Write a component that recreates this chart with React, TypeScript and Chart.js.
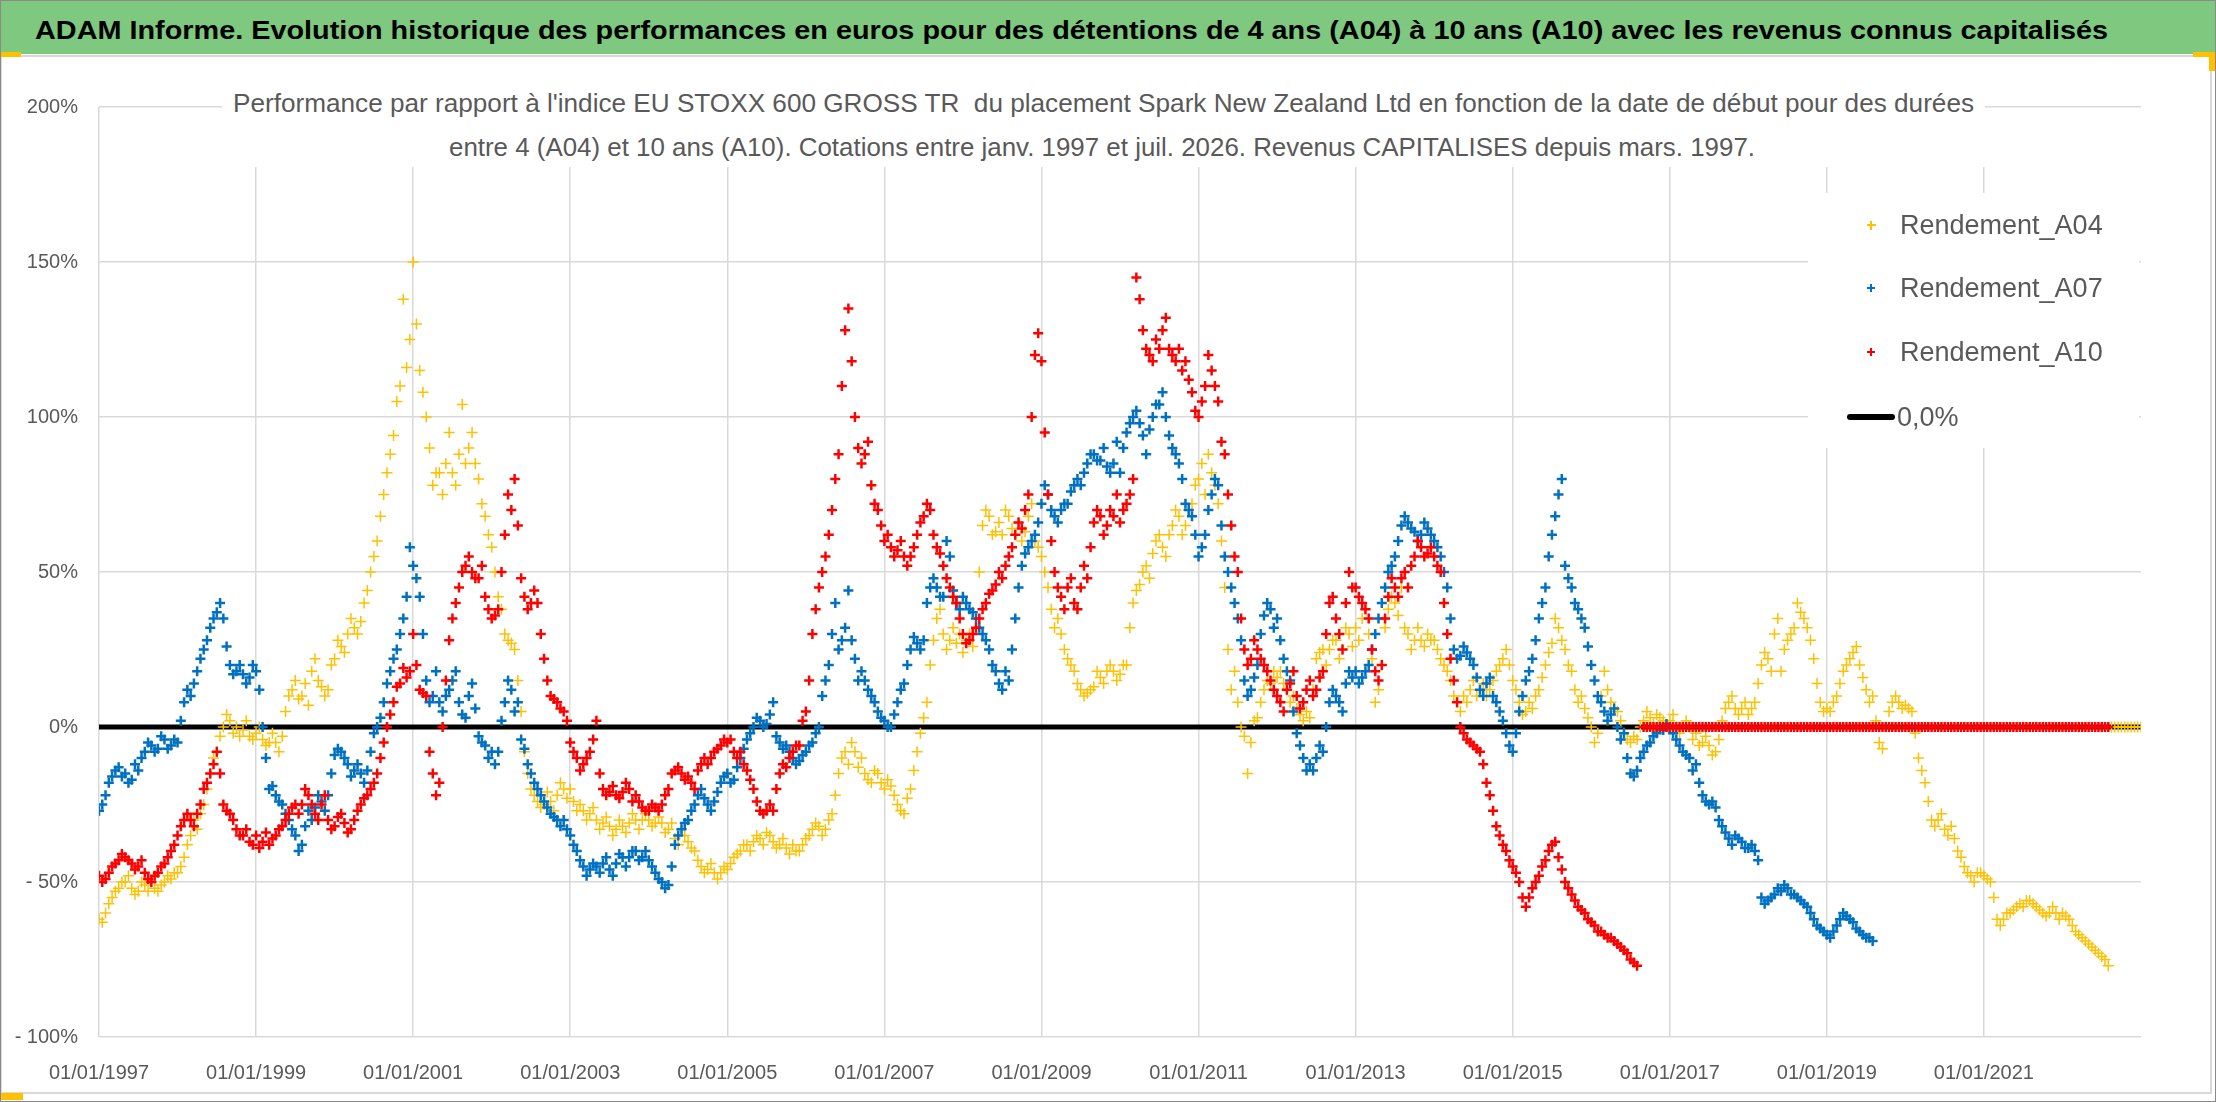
import { useEffect, useLayoutEffect, useRef } from 'react';
import { Chart, registerables } from 'chart.js';

Chart.register(...registerables);

// Rendements (%), un point en début de mois depuis janvier 1997
const a04Start = 1997;
const a04Monthly = [
  -62, -60, -55, -52, -50, -52, -53, -51, -50, -53, -50, -49,
  -47, -42, -35, -33, -25, -15, -8, 0, 2, 0, -1, -3,
  -2, -4, -5, -5, -3, 10, 15, 10, 7, 22, 13, 12,
  22, 26, 30, 32, 34, 44, 55, 68, 82, 94, 110, 116,
  150, 115, 100, 78, 82, 85, 82, 88, 85, 95, 80, 68,
  58, 42, 30, 27, 15, -8, -20, -24, -25, -24, -22, -20,
  -20, -27, -27, -28, -30, -31, -32, -33, -32, -31, -30, -30,
  -30, -31, -31, -33, -36, -33, -37, -40, -45, -46, -47, -47,
  -46, -42, -40, -38, -37, -36, -34, -37, -38, -39, -38, -40,
  -36, -33, -32, -33, -28, -15, -8, -5, -13, -15, -18, -15,
  -20, -19, -25, -28, -20, -8, 3, 20, 35, 30, 28, 27,
  24, 30, 35, 65, 68, 63, 62, 68, 62, 60, 68, 60,
  55, 45, 32, 30, 22, 18, 12, 11, 13, 16, 18, 18,
  17, 20, 40, 46, 52, 56, 62, 55, 65, 68, 65, 72,
  80, 75, 82, 72, 45, 12, 8, -3, -5, 3, 12, 14,
  16, 14, 8, 6, 2, 3, 22, 25, 25, 28, 25, 30,
  32, 35, 30, 8, 20, 38, 40, 45, 30, 28, 28, 30,
  28, 22, 18, 10, 5, 8, 15, 12, 10, 15, 20, 25,
  15, 8, 5, 6, 12, 20, 27, 32, 25, 18, 8, 6,
  0, -2, 18, 8, 5, -2, -5, -4, 2, 3, 4, 2,
  2, 0, 0, 0, -2, -5, -6, -8, 2, 8, 6, 6,
  4, 8, 20, 22, 30, 18, 28, 32, 37, 32, 22, 8,
  6, 8, 14, 20, 24, 20, 12, 10, -5, 0, 8, 8,
  7, 5, -10, -18, -30, -30, -33, -32, -40, -45, -48, -47,
  -48, -50, -62, -62, -60, -58, -58, -56, -58, -60, -60, -60,
  -60, -62, -66, -68, -70, -72, -74, -77,
];
// Relevés en milieu de mois (épaisseur du nuage)
const a04MidMonth = [
  -63, -57, -53, -50, -48, -54, -50, -53, -52, -51, -48, -47,
  -45, -38, -30, -28, -20, -10, -3, 4, -2, -3, 2, -4,
  0, -6, -2, -8, 5, 12, 9, 14, 18, 15, 10, 20,
  28, 24, 35, 30, 40, 50, 60, 75, 88, 105, 138, 125,
  130, 108, 90, 82, 75, 95, 78, 104, 90, 85, 72, 62,
  50, 38, 28, 25, 5, -15, -22, -26, -21, -27, -18, -23,
  -24, -25, -30, -26, -33, -29, -35, -30, -34, -28, -33, -28,
  -32, -29, -34, -31, -38, -35, -39, -43, -47, -44, -49, -45,
  -44, -41, -38, -40, -35, -38, -35, -39, -36, -41, -40, -38,
  -35, -31, -35, -30, -22, -10, -12, -8, -10, -17, -14, -18,
  -17, -22, -27, -23, -14, -2, 8, 28, 38, 25, 32, 30,
  28, 26, 50, 70, 62, 66, 70, 64, 66, 63, 72, 58,
  50, 38, 35, 25, 20, 14, 10, 12, 18, 14, 20, 15,
  20, 32, 44, 50, 48, 60, 58, 62, 70, 62, 70, 78,
  85, 88, 78, 60, 25, 18, 0, -15, 2, 8, 15, 18,
  18, 12, 10, 4, 5, 12, 24, 20, 28, 22, 32, 26,
  28, 38, 22, 12, 32, 42, 36, 32, 25, 32, 26, 28,
  25, 20, 15, 8, 10, 12, 10, 14, 12, 18, 22, 20,
  12, 4, 8, 10, 16, 24, 35, 28, 20, 12, 10, 3,
  -5, 10, 12, 6, 2, -4, -3, 0, 5, 1, 3, 0,
  4, -2, 2, -4, -6, -3, -9, -4, 6, 10, 4, 8,
  6, 14, 24, 18, 35, 25, 30, 40, 35, 28, 14, 5,
  5, 10, 18, 22, 26, 16, 8, 2, -7, 5, 10, 6,
  6, -2, -14, -24, -32, -28, -35, -36, -42, -47, -50, -47,
  -49, -55, -64, -60, -59, -57, -56, -57, -59, -61, -58, -62,
  -61, -64, -67, -69, -71, -73, -75,
];

const a07Start = 1997;
const a07Monthly = [
  -27, -22, -16, -13, -15, -17, -14, -8, -6, -7, -4, -6,
  -5, 8, 10, 18, 25, 32, 37, 35, 20, 18, 17, 16,
  18, 0, -20, -22, -25, -30, -35, -38, -27, -26, -24, -22,
  -9, -8, -12, -14, -15, -14, -2, 3, 14, 22, 30, 42,
  52, 42, 15, 10, 8, 10, 15, 8, 3, 14, -3, -6,
  -8, -8, 8, 12, 8, -7, -15, -20, -24, -28, -30, -30,
  -35, -40, -45, -46, -45, -44, -46, -44, -42, -42, -40, -42,
  -43, -47, -50, -51, -38, -33, -30, -25, -20, -25, -24, -18,
  -15, -17, -10, -4, 0, 2, 1, 8, -5, -6, -10, -11,
  -8, -5, 0, 15, 30, 25, 32, 28, 15, 15, 10, 5,
  2, 0, 8, 14, 25, 27, 28, 45, 45, 42, 55, 40,
  42, 38, 35, 30, 25, 18, 12, 15, 35, 52, 58, 62,
  72, 75, 68, 70, 72, 78, 78, 85, 88, 86, 84, 85,
  82, 95, 100, 98, 88, 100, 104, 100, 90, 85, 72, 68,
  55, 62, 75, 78, 55, 45, 35, 15, 12, 20, 36, 38,
  35, 22, 15, -2, -10, -12, -10, -8, 8, 10, 5, 18,
  18, 16, 20, 30, 40, 50, 55, 65, 66, 63, 62, 64,
  60, 55, 45, 25, 23, 24, 20, 12, 14, 10, 5, -2,
  -8, 5, 15, 22, 35, 45, 62, 75, 52, 45, 38, 32,
  20, 10, 5, 4, 0, -2, -15, -14, -8, -5, -2, -1,
  0, -4, -8, -10, -12, -22, -25, -26, -32, -36, -35, -37,
  -39, -40, -55, -56, -54, -53, -52, -54, -56, -58, -62, -65,
  -67, -66, -62, -61, -63, -66, -68, -69,
];
const a07MidMonth = [
  -25, -18, -14, -16, -18, -12, -10, -5, -8, -3, -7, -4,
  2, 12, 14, 22, 28, 35, 40, 26, 17, 20, 14, 20,
  12, -10, -19, -24, -28, -33, -40, -32, -30, -22, -27, -15,
  -7, -10, -16, -12, -18, -8, 0, 8, 18, 25, 35, 58,
  48, 30, 8, 18, 5, 12, 18, 4, 10, 6, -5, -10,
  -12, 2, 15, 5, -4, -12, -18, -22, -26, -29, -32, -33,
  -38, -43, -48, -44, -47, -42, -48, -41, -45, -40, -43, -40,
  -45, -49, -52, -45, -35, -31, -27, -22, -23, -27, -21, -16,
  -18, -13, -7, -2, 3, 0, 4, -3, -7, -8, -12, -9,
  -6, -2, 10, 20, 40, 28, 44, 22, 18, 12, 8, 3,
  0, 4, 12, 20, 29, 25, 40, 48, 42, 60, 44, 38,
  40, 37, 32, 28, 20, 14, 18, 25, 45, 56, 60, 66,
  78, 70, 66, 72, 76, 80, 82, 88, 86, 90, 82, 92,
  90, 98, 102, 94, 96, 104, 108, 94, 88, 80, 70, 62,
  58, 70, 80, 65, 50, 40, 28, 10, 16, 30, 40, 32,
  28, 18, 5, -6, -14, -14, -6, 0, 12, 8, 14, 16,
  14, 18, 25, 35, 45, 52, 60, 68, 64, 60, 66, 62,
  58, 50, 35, 22, 26, 22, 16, 10, 16, 8, 2, -6,
  -2, 10, 18, 28, 40, 55, 68, 80, 48, 40, 35, 26,
  15, 8, 2, 6, -4, -10, -16, -10, -6, -3, 0, 1,
  -2, -6, -9, -14, -18, -24, -24, -30, -34, -38, -36, -39,
  -38, -43, -57, -55, -52, -51, -54, -55, -57, -60, -64, -66,
  -68, -64, -60, -62, -65, -67, -68,
];

const a10Start = 1997;
const a10Monthly = [
  -48, -49, -45, -43, -42, -44, -45, -47, -50, -47, -44, -40,
  -35, -30, -30, -28, -20, -15, -8, -25, -28, -33, -35, -37,
  -35, -37, -38, -35, -32, -28, -25, -25, -22, -28, -25, -30,
  -32, -28, -34, -30, -25, -22, -18, -10, 0, 8, 14, 16,
  30, 12, 10, -15, -18, 15, 35, 45, 52, 50, 48, 42,
  35, 38, 62, 70, 65, 42, 40, 40, 22, 10, 8, 5,
  -5, -10, -12, -8, 2, -20, -21, -22, -21, -20, -22, -26,
  -27, -26, -25, -20, -14, -15, -16, -20, -12, -12, -8, -6,
  -5, -8, -8, -14, -20, -27, -27, -27, -15, -13, -8, -6,
  5, 30, 45, 55, 70, 88, 128, 118, 90, 88, 78, 70,
  60, 58, 57, 55, 55, 62, 68, 70, 58, 52, 45, 40,
  30, 28, 32, 38, 43, 46, 48, 55, 62, 64, 75, 120,
  118, 75, 50, 42, 45, 40, 45, 48, 66, 68, 65, 68,
  66, 72, 80, 138, 122, 118, 122, 132, 120, 122, 118, 108,
  100, 110, 115, 105, 88, 65, 50, 25, 22, 25, 20, 15,
  10, 5, 14, 10, 8, 15, 12, 18, 40, 35, 25, 50,
  45, 40, 35, 18, 20, 42, 45, 48, 45, 55, 58, 56,
  55, 50, 30, 15, 0, -4, -6, -8, -18, -27, -35, -40,
  -45, -50, -58, -52, -48, -43, -38, -42, -50, -54, -58, -60,
  -63, -66, -67, -68, -70, -72, -75, -77,
];
const a10MidMonth = [
  -50, -47, -44, -41, -43, -46, -43, -49, -48, -45, -42, -38,
  -32, -28, -32, -25, -18, -12, -15, -27, -30, -35, -33, -38,
  -39, -34, -36, -33, -30, -26, -28, -20, -25, -30, -22, -33,
  -29, -31, -33, -27, -23, -20, -15, -5, 4, 13, 19, 18,
  20, 11, -8, -22, 0, 28, 40, 50, 55, 48, 52, 38,
  36, 50, 75, 80, 48, 38, 44, 30, 15, 9, 6, 2,
  -8, -14, -10, -4, -15, -22, -19, -23, -18, -24, -24, -27,
  -25, -27, -22, -15, -13, -17, -18, -14, -10, -10, -7, -4,
  -4, -10, -12, -17, -24, -28, -25, -20, -12, -10, -6, 2,
  15, 38, 50, 62, 80, 110, 135, 100, 85, 92, 72, 65,
  62, 55, 60, 52, 58, 66, 72, 62, 56, 48, 42, 35,
  27, 30, 35, 40, 44, 50, 52, 58, 66, 70, 100, 127,
  95, 60, 45, 38, 48, 38, 52, 58, 70, 62, 70, 75,
  70, 75, 145, 128, 120, 125, 128, 122, 118, 115, 112, 102,
  105, 120, 110, 92, 75, 55, 35, 20, 28, 22, 18, 12,
  8, 12, 18, 6, 12, 10, 16, 30, 42, 30, 40, 45,
  42, 38, 25, 15, 35, 48, 42, 50, 52, 60, 55, 58,
  52, 40, 22, 8, -2, -5, -7, -12, -22, -32, -38, -43,
  -47, -55, -55, -50, -45, -40, -37, -46, -52, -56, -59, -62,
  -64, -66, -68, -69, -71, -73, -76,
];

// Valeurs nulles après la fin des séries, un point tous les demi-mois
const a10TailStart = 2016 + 8 / 12;
const a10ZeroTail = [
  0, 0, 0, 0, 0, 0, 0, 0, 0, 0, 0, 0, 0, 0, 0, 0, 0, 0, 0, 0, 0, 0, 0, 0,
  0, 0, 0, 0, 0, 0, 0, 0, 0, 0, 0, 0, 0, 0, 0, 0, 0, 0, 0, 0, 0, 0, 0, 0,
  0, 0, 0, 0, 0, 0, 0, 0, 0, 0, 0, 0, 0, 0, 0, 0, 0, 0, 0, 0, 0, 0, 0, 0,
  0, 0, 0, 0, 0, 0, 0, 0, 0, 0, 0, 0, 0, 0, 0, 0, 0, 0, 0, 0, 0, 0, 0, 0,
  0, 0, 0, 0, 0, 0, 0, 0, 0, 0, 0, 0, 0, 0, 0, 0, 0, 0, 0, 0, 0, 0, 0, 0,
  0, 0, 0, 0, 0, 0, 0, 0, 0, 0, 0, 0, 0, 0, 0, 0, 0, 0, 0, 0, 0, 0, 0,
];
const a04TailStart = 2022 + 7.5 / 12;
const a04ZeroTail = [0, 0, 0, 0, 0, 0, 0, 0, 0, 0];

const zeroLineX = [1997, 2023];
const xTickYears = [1997, 1999, 2001, 2003, 2005, 2007, 2009, 2011, 2013, 2015, 2017, 2019, 2021];
const yTickValues = [-100, -50, 0, 50, 100, 150, 200];

const FONT = "'Liberation Sans', Arial, sans-serif";
const GREY_TEXT = '#595959';
const YELLOW = '#FFC000';
const BLUE = '#0070C0';
const RED = '#FF0000';

const MONTH = 1 / 12;

const toPoints = (start: number, values: number[], step: number) =>
  values.map((y, i) => ({ x: start + i * step, y }));

// Texte étiré pour occuper la même largeur que sur l'original
function FitText({ text, left, top, width, size, color, weight }: {
  text: string; left: number; top: number; width: number; size: number; color: string; weight: number;
}) {
  const ref = useRef<HTMLSpanElement>(null);
  useLayoutEffect(() => {
    const el = ref.current;
    if (!el) return;
    el.style.transform = 'none';
    const w = el.getBoundingClientRect().width;
    if (w > 0) el.style.transform = `scaleX(${width / w})`;
  }, [text, width]);
  return (
    <span
      ref={ref}
      style={{
        position: 'absolute', left, top, fontSize: size, lineHeight: `${size}px`, height: size,
        color, fontWeight: weight, whiteSpace: 'pre', transformOrigin: 'left center', fontFamily: FONT,
      }}
    >
      {text}
    </span>
  );
}

function Plus({ cx, cy, size, thick, color }: { cx: number; cy: number; size: number; thick: number; color: string }) {
  return (
    <>
      <div style={{ position: 'absolute', left: cx - size / 2, top: cy - thick / 2, width: size, height: thick, background: color }} />
      <div style={{ position: 'absolute', left: cx - thick / 2, top: cy - size / 2, width: thick, height: size, background: color }} />
    </>
  );
}

export default function App() {
  const canvasRef = useRef<HTMLCanvasElement>(null);
  const chartRef = useRef<Chart | null>(null);

  useEffect(() => {
    document.body.style.margin = '0';
    const ctx = canvasRef.current?.getContext('2d');
    if (!ctx) return;
    if (chartRef.current) chartRef.current.destroy();

    chartRef.current = new Chart(ctx, {
      type: 'scatter',
      data: {
        datasets: [
          {
            label: '0,0%',
            data: zeroLineX.map((x) => ({ x, y: 0 })),
            showLine: true,
            borderColor: '#000000',
            borderWidth: 5,
            pointRadius: 0,
            order: 4,
          },
          {
            label: 'Rendement_A04',
            data: [
              ...toPoints(a04Start, a04Monthly, MONTH),
              ...toPoints(a04Start + MONTH / 2, a04MidMonth, MONTH),
              ...toPoints(a04TailStart, a04ZeroTail, MONTH / 2),
            ],
            pointStyle: 'cross',
            pointRadius: 5.5,
            pointBorderWidth: 1.5,
            pointBorderColor: YELLOW,
            backgroundColor: YELLOW,
            order: 3,
          },
          {
            label: 'Rendement_A07',
            data: [
              ...toPoints(a07Start, a07Monthly, MONTH),
              ...toPoints(a07Start + MONTH / 2, a07MidMonth, MONTH),
            ],
            pointStyle: 'cross',
            pointRadius: 5,
            pointBorderWidth: 2.5,
            pointBorderColor: BLUE,
            backgroundColor: BLUE,
            order: 2,
          },
          {
            label: 'Rendement_A10',
            data: [
              ...toPoints(a10Start, a10Monthly, MONTH),
              ...toPoints(a10Start + MONTH / 2, a10MidMonth, MONTH),
              ...toPoints(a10TailStart, a10ZeroTail, MONTH / 2),
            ],
            pointStyle: 'cross',
            pointRadius: 5,
            pointBorderWidth: 2.5,
            pointBorderColor: RED,
            backgroundColor: RED,
            order: 1,
          },
        ],
      },
      options: {
        animation: false,
        responsive: false,
        layout: { padding: { top: 107, right: 75, bottom: 0, left: 0 } },
        plugins: {
          legend: { display: false },
          tooltip: { enabled: false },
          title: { display: false },
        },
        scales: {
          x: {
            type: 'linear',
            min: 1997,
            max: 2023,
            afterBuildTicks: (scale: any) => {
              scale.ticks = xTickYears.map((value) => ({ value }));
            },
            afterFit: (scale: any) => {
              scale.height = 65;
            },
            ticks: {
              callback: (v: any) => `01/01/${v}`,
              color: GREY_TEXT,
              font: { family: FONT, size: 20 },
              padding: 24,
              maxRotation: 0,
              autoSkip: false,
            },
            grid: { color: '#D9D9D9', lineWidth: 1.5, drawTicks: false },
            border: { display: false },
          },
          y: {
            type: 'linear',
            min: -100,
            max: 200,
            afterBuildTicks: (scale: any) => {
              scale.ticks = yTickValues.map((value) => ({ value }));
            },
            afterFit: (scale: any) => {
              scale.width = 99;
            },
            ticks: {
              callback: (v: any) => (v < 0 ? `- ${Math.abs(v)}%` : `${v}%`),
              color: GREY_TEXT,
              font: { family: FONT, size: 20 },
              padding: 21,
            },
            grid: { color: '#D9D9D9', lineWidth: 1.5, drawTicks: false },
            border: { display: false },
          },
        },
      },
    });

    return () => {
      if (chartRef.current) {
        chartRef.current.destroy();
        chartRef.current = null;
      }
    };
  }, []);

  const legendRows = [
    { label: 'Rendement_A04', color: YELLOW, size: 9, thick: 1.3, cy: 225 },
    { label: 'Rendement_A07', color: BLUE, size: 7.5, thick: 2, cy: 288 },
    { label: 'Rendement_A10', color: RED, size: 7.5, thick: 2, cy: 352 },
  ];

  return (
    <div style={{ position: 'absolute', left: 0, top: 0, width: 2216, height: 1102, background: '#ffffff', overflow: 'hidden', fontFamily: FONT }}>
      <canvas ref={canvasRef} width={2216} height={1102} style={{ position: 'absolute', left: 0, top: 0, width: 2216, height: 1102 }} />

      {/* cadre du graphique */}
      <div style={{ position: 'absolute', left: 0, top: 55, width: 2212, height: 1039, border: '2px solid #D9D9D9', boxSizing: 'border-box' }} />

      {/* bandeau titre */}
      <div style={{ position: 'absolute', left: 0, top: 0, width: 2216, height: 54, background: '#7EC87F' }} />
      <FitText
        text="ADAM Informe. Evolution historique des performances en euros pour des détentions de 4 ans (A04) à 10 ans (A10) avec les revenus connus capitalisés"
        left={35} top={17} width={2073} size={26} color="#000000" weight={700}
      />

      {/* titre du graphique */}
      <div style={{ position: 'absolute', left: 222, top: 86, width: 1763, height: 81, background: '#ffffff' }} />
      <FitText
        text="Performance par rapport à l'indice EU STOXX 600 GROSS TR  du placement Spark New Zealand Ltd en fonction de la date de début pour des durées"
        left={233} top={91} width={1741} size={25} color={GREY_TEXT} weight={400}
      />
      <FitText
        text="entre 4 (A04) et 10 ans (A10). Cotations entre janv. 1997 et juil. 2026. Revenus CAPITALISES depuis mars. 1997."
        left={449} top={135} width={1306} size={25} color={GREY_TEXT} weight={400}
      />

      {/* légende */}
      <div style={{ position: 'absolute', left: 1808, top: 193, width: 331, height: 255, background: '#ffffff' }} />
      {legendRows.map((r) => (
        <div key={r.label}>
          <Plus cx={1871} cy={r.cy} size={r.size} thick={r.thick} color={r.color} />
          <span style={{ position: 'absolute', left: 1900, top: r.cy - 14, fontSize: 27, lineHeight: '28px', color: GREY_TEXT, whiteSpace: 'nowrap' }}>
            {r.label}
          </span>
        </div>
      ))}
      <div style={{ position: 'absolute', left: 1847, top: 414, width: 48, height: 6, borderRadius: 3, background: '#000000' }} />
      <span style={{ position: 'absolute', left: 1897, top: 403, fontSize: 27, lineHeight: '28px', color: GREY_TEXT, whiteSpace: 'nowrap' }}>
        0,0%
      </span>

      {/* poignées de sélection */}
      <div style={{ position: 'absolute', left: 0, top: 52, width: 21, height: 5, background: '#FFC000' }} />
      <div style={{ position: 'absolute', left: 2193, top: 52, width: 23, height: 5, background: '#FFC000' }} />
      <div style={{ position: 'absolute', left: 2209, top: 52, width: 7, height: 19, background: '#FFC000' }} />
      <div style={{ position: 'absolute', left: 0, top: 1093, width: 23, height: 7, background: '#FFC000' }} />

      {/* bordure extérieure */}
      <div style={{ position: 'absolute', left: 0, top: 0, width: 2216, height: 1102, border: '1px solid #8A8A8A', boxSizing: 'border-box' }} />
    </div>
  );
}
